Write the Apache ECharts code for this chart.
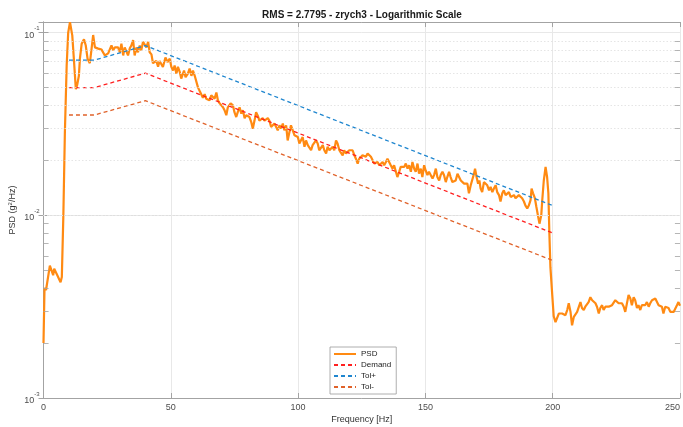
<!DOCTYPE html>
<html>
<head>
<meta charset="utf-8">
<script src="https://cdn.jsdelivr.net/npm/echarts@6/dist/echarts.min.js"></script>
<style>
  html, body { margin: 0; padding: 0; background: #ffffff; }
  #chart { width: 683px; height: 427px; }
</style>
</head>
<body>
<div id="chart"></div>
<script>
// Measured response spectrum (frequency in Hz, PSD in g^2/Hz)
const freq = [
  0, 0.4, 1.0, 2.5, 3.2, 3.8, 4.2, 5.1, 6.7, 7.2, 7.8, 8.4, 9.1, 9.7, 10.4, 11.3, 12.1, 12.7, 13.2, 13.9,
  14.3, 15.0, 15.9, 16.6, 17.3, 18.2, 18.9, 19.5, 20.2, 20.9, 21.5, 22.1, 22.8, 23.5, 24.1, 24.8, 25.4, 26.1, 26.7, 27.4,
  28.0, 28.7, 29.3, 30.0, 30.6, 31.3, 31.9, 32.6, 33.2, 33.9, 34.5, 35.2, 35.8, 36.5, 37.1, 37.8, 38.4, 39.1, 39.8, 40.4,
  41.1, 41.7, 42.4, 43.0, 43.7, 44.3, 45.0, 45.6, 46.0, 46.9, 47.9, 48.7, 49.6, 50.2, 50.9, 51.5, 52.2, 52.8, 53.5, 54.1,
  55.2, 55.8, 56.7, 57.4, 58.1, 58.7, 59.4, 60.0, 60.7, 61.3, 62.0, 62.6, 63.3, 63.9, 64.6, 65.2, 65.9, 66.5, 67.2, 67.9,
  68.5, 69.2, 69.8, 70.5, 71.1, 71.8, 72.4, 73.5, 74.4, 75.0, 75.7, 76.3, 77.0, 77.7, 78.3, 79.0, 79.6, 80.3, 80.9, 81.6,
  82.2, 82.9, 83.5, 84.2, 84.8, 85.5, 86.1, 86.8, 87.4, 88.1, 88.7, 89.4, 90.1, 90.7, 91.4, 92.0, 92.7, 93.3, 94.0, 94.6,
  95.3, 95.9, 96.6, 97.2, 97.9, 98.6, 99.2, 99.9, 100.5, 101.2, 101.8, 102.5, 103.1, 103.8, 104.4, 105.1, 105.7, 106.4, 107.0, 107.7,
  108.3, 109.0, 109.7, 110.3, 111.0, 111.6, 112.3, 112.9, 113.6, 114.2, 114.9, 115.5, 116.2, 116.8, 117.5, 118.1, 118.8, 119.5, 120.1, 120.8,
  121.4, 122.1, 122.7, 123.4, 124.0, 124.7, 125.3, 126.0, 126.6, 127.3, 127.9, 128.6, 129.2, 129.9, 130.6, 131.2, 131.9, 132.5, 133.2, 133.8,
  134.5, 135.1, 135.8, 136.4, 137.1, 137.7, 138.4, 139.0, 139.7, 140.3, 141.0, 141.7, 142.3, 143.0, 143.6, 144.3, 144.9, 145.6, 146.2, 146.9,
  147.5, 148.2, 148.8, 149.5, 150.1, 150.8, 151.4, 152.1, 152.8, 153.4, 154.1, 154.7, 155.4, 156.0, 156.7, 157.3, 158.0, 158.6, 159.3, 159.9,
  160.6, 161.2, 161.9, 162.6, 163.2, 163.9, 164.5, 165.2, 165.8, 166.5, 167.1, 167.8, 168.4, 169.1, 169.5, 170.1, 170.7, 171.2, 171.7, 172.3,
  173.0, 173.7, 174.3, 175.0, 175.6, 176.3, 176.9, 177.6, 178.2, 178.9, 179.5, 180.2, 180.8, 181.5, 182.1, 182.8, 183.5, 184.1, 184.8, 185.4,
  186.1, 186.7, 187.4, 188.0, 188.7, 189.3, 190.0, 190.6, 191.3, 191.7, 192.3, 193.0, 193.6, 194.3, 194.8, 195.5, 195.9, 196.5, 197.2, 197.8,
  198.3, 198.7, 199.1, 199.8, 200.4, 201.1, 201.7, 202.4, 203.0, 203.7, 204.3, 205.0, 205.7, 206.3, 207.0, 207.6, 208.3, 208.9, 209.6, 210.2,
  210.9, 211.5, 212.2, 212.8, 213.5, 214.1, 214.8, 215.5, 216.1, 216.8, 217.4, 218.1, 218.7, 219.4, 220.0, 220.7, 221.3, 222.0, 222.6, 223.3,
  224.0, 224.6, 225.3, 225.9, 226.6, 227.2, 227.9, 228.5, 229.2, 229.8, 230.5, 231.1, 231.8, 232.4, 233.1, 233.7, 234.4, 235.0, 235.7, 236.3,
  237.0, 237.7, 238.3, 239.0, 239.6, 240.3, 240.9, 241.6, 242.2, 242.9, 243.5, 244.2, 244.8, 245.5, 246.2, 246.8, 247.5, 248.1, 248.8, 249.4,
  250.0
];
const psd = [
  0.0020, 0.0040, 0.0039, 0.0053, 0.0053, 0.0047, 0.0051, 0.0048, 0.0043, 0.0046, 0.0100, 0.0286, 0.066, 0.100, 0.114, 0.0966, 0.066, 0.049, 0.0515, 0.058,
  0.072, 0.087, 0.092, 0.085, 0.072, 0.068, 0.082, 0.097, 0.083, 0.082, 0.0817, 0.082, 0.0807, 0.081, 0.075, 0.0755, 0.077, 0.078, 0.085, 0.080,
  0.083, 0.082, 0.083, 0.078, 0.087, 0.075, 0.083, 0.082, 0.075, 0.082, 0.085, 0.091, 0.075, 0.083, 0.078, 0.085, 0.080, 0.089, 0.091, 0.083,
  0.089, 0.078, 0.076, 0.068, 0.0665, 0.070, 0.065, 0.070, 0.071, 0.0648, 0.073, 0.069, 0.072, 0.065, 0.062, 0.066, 0.0596, 0.065, 0.061, 0.056,
  0.062, 0.057, 0.0596, 0.0635, 0.058, 0.062, 0.058, 0.057, 0.050, 0.048, 0.047, 0.044, 0.046, 0.0435, 0.044, 0.0426, 0.0454, 0.046, 0.0435, 0.047,
  0.0426, 0.041, 0.042, 0.039, 0.0376, 0.0353, 0.039, 0.041, 0.040, 0.0367, 0.0345, 0.0367, 0.039, 0.036, 0.0376, 0.034, 0.0353, 0.036, 0.0345, 0.0324,
  0.0298, 0.0331, 0.0367, 0.035, 0.033, 0.0324, 0.034, 0.033, 0.0324, 0.034, 0.033, 0.0304, 0.0298, 0.0318, 0.0311, 0.0292, 0.0311, 0.0298, 0.0318, 0.0292,
  0.0311, 0.0257, 0.0286, 0.0311, 0.0292, 0.0274, 0.028, 0.0268, 0.0247, 0.0242, 0.0268, 0.0237, 0.0257, 0.0242, 0.0247, 0.0227, 0.0242, 0.025, 0.0257, 0.0247,
  0.0227, 0.0232, 0.0242, 0.0227, 0.0218, 0.0237, 0.0227, 0.0232, 0.0237, 0.0227, 0.0257, 0.0247, 0.0227, 0.022, 0.0213, 0.0227, 0.0218, 0.0213, 0.0227, 0.0229,
  0.0227, 0.0213, 0.0204, 0.0192, 0.0204, 0.020, 0.0213, 0.0218, 0.0209, 0.0218, 0.0218, 0.0209, 0.0204, 0.0192, 0.0188, 0.0196, 0.0188, 0.0184, 0.0196, 0.0188,
  0.0196, 0.0204, 0.020, 0.0188, 0.018, 0.0188, 0.0184, 0.0162, 0.0173, 0.0184, 0.0188, 0.0184, 0.0192, 0.018, 0.0188, 0.0173, 0.0196, 0.018, 0.0173, 0.0192,
  0.0169, 0.018, 0.0162, 0.0188, 0.0176, 0.0166, 0.0173, 0.0169, 0.0159, 0.0166, 0.018, 0.0162, 0.0155, 0.0166, 0.0173, 0.0166, 0.0152, 0.0162, 0.0173, 0.0162,
  0.0152, 0.0149, 0.0155, 0.0169, 0.0173, 0.0155, 0.0152, 0.0149, 0.0152, 0.0149, 0.0132, 0.0146, 0.0149, 0.0169, 0.018, 0.0162, 0.0149, 0.0155, 0.014, 0.0134,
  0.0152, 0.0149, 0.0146, 0.0137, 0.0143, 0.0134, 0.014, 0.0146, 0.0134, 0.0129, 0.0119, 0.0132, 0.0137, 0.0129, 0.0126, 0.0134, 0.0126, 0.0124, 0.0129, 0.0124,
  0.0121, 0.0129, 0.0129, 0.0124, 0.0119, 0.0113, 0.0109, 0.0113, 0.0121, 0.014, 0.0132, 0.0124, 0.0111, 0.0098, 0.0090, 0.0100, 0.0121, 0.0155, 0.0184, 0.0162,
  0.0132, 0.0079, 0.0052, 0.0037, 0.0028, 0.0026, 0.00254, 0.0029, 0.00296, 0.0029, 0.00296, 0.00284, 0.00303, 0.0033, 0.00296, 0.0025, 0.00278, 0.00284, 0.00296, 0.00303,
  0.00335, 0.00311, 0.00303, 0.00316, 0.00311, 0.00335, 0.00356, 0.00343, 0.0035, 0.0033, 0.00316, 0.0029, 0.00311, 0.00322, 0.00303, 0.00316, 0.00311, 0.00316, 0.00316, 0.00322,
  0.0033, 0.00343, 0.00335, 0.0033, 0.00322, 0.0033, 0.00316, 0.00296, 0.00296, 0.00366, 0.0035, 0.00322, 0.00356, 0.00343, 0.00311, 0.00322, 0.00303, 0.00322, 0.0033, 0.00322,
  0.00335, 0.00316, 0.0033, 0.00343, 0.00335, 0.0035, 0.00343, 0.00322, 0.00316, 0.00316, 0.0029, 0.00316, 0.00322, 0.00311, 0.00296, 0.00303, 0.00296, 0.00303, 0.00322, 0.00335,
  0.0032
];

// Test profile breakpoints and its +/-3 dB tolerance bands
const profileFreq = [10, 20, 40, 200];
const demand = [0.05, 0.05, 0.06, 0.008];
const tolPlus = [0.0707, 0.0707, 0.0849, 0.0113];
const tolMinus = [0.0354, 0.0354, 0.0424, 0.00566];

// Axis ranges and logarithmic minor grid levels
const xRange = [0, 250];
const xStep = 50;
const yRange = [0.001, 0.1143];
const yMinor = [0.002, 0.003, 0.004, 0.005, 0.006, 0.007, 0.008, 0.009,
                0.02, 0.03, 0.04, 0.05, 0.06, 0.07, 0.08, 0.09];

const FONT = '"Liberation Sans", Arial, Helvetica, sans-serif';
const AXIS_COLOR = '#a3a3a3';
const LABEL_COLOR = '#4d4d4d';
const GRID_COLOR = '#e8e8e8';

const pairs = (xs, ys) => xs.map((x, i) => [x, ys[i]]);

function decadeLabel(v) {
  const e = Math.log10(v);
  if (Math.abs(e - Math.round(e)) > 1e-6) return '';
  return '{b|10}{s|' + Math.round(e) + '}';
}

// Minor grid (dotted) and short inward minor ticks on both vertical axes
const tickLen = 2.0;
const minorLines = [];
yMinor.forEach(v => {
  minorLines.push({ yAxis: v, lineStyle: { type: [1.5, 2], color: '#dedede', width: 0.8 } });
  minorLines.push([{ coord: [xRange[0], v] }, { coord: [xRange[0] + tickLen, v], lineStyle: { type: 'solid', color: AXIS_COLOR, width: 0.8 } }]);
  minorLines.push([{ coord: [xRange[1] - tickLen, v] }, { coord: [xRange[1], v], lineStyle: { type: 'solid', color: AXIS_COLOR, width: 0.8 } }]);
});

const chart = echarts.init(document.getElementById('chart'), null, { renderer: 'canvas' });

const baseX = {
  type: 'value', min: xRange[0], max: xRange[1], interval: xStep,
  axisLine: { show: true, lineStyle: { color: AXIS_COLOR, width: 1 } },
  axisTick: { show: true, inside: true, length: 5, lineStyle: { color: AXIS_COLOR } }
};
const baseY = {
  type: 'log', logBase: 10, min: yRange[0], max: yRange[1],
  axisLine: { show: true, lineStyle: { color: AXIS_COLOR, width: 1 } },
  axisTick: { show: true, inside: true, length: 5, lineStyle: { color: AXIS_COLOR } }
};

chart.setOption({
  animation: false,
  backgroundColor: '#ffffff',
  textStyle: { fontFamily: FONT },
  grid: { left: 43.5, right: 3, top: 22, bottom: 29, containLabel: false, outerBoundsMode: 'none' },
  graphic: [{
    type: 'text', x: 362, y: 15,
    style: {
      text: 'RMS = 2.7795 - zrych3 - Logarithmic Scale',
      font: 'bold 10px ' + FONT, fill: '#1a1a1a', align: 'center', verticalAlign: 'middle'
    }
  }],
  legend: {
    data: ['PSD', 'Demand', 'Tol+', 'Tol-'],
    orient: 'vertical', left: 330, top: 347,
    itemWidth: 22, itemHeight: 8, itemGap: 3, itemTextGap: 5,
    padding: [3, 5, 3, 3],
    borderColor: '#9a9a9a', borderWidth: 0.8, borderRadius: 0,
    backgroundColor: '#ffffff',
    itemStyle: { opacity: 0 },
    textStyle: { fontSize: 8, color: '#222222', fontFamily: FONT }
  },
  xAxis: [
    Object.assign({}, baseX, {
      position: 'bottom',
      name: 'Frequency [Hz]', nameLocation: 'middle', nameGap: 17, nameMoveOverlap: false,
      nameTextStyle: { fontSize: 9, color: '#333333' },
      axisLabel: { show: true, fontSize: 9, color: LABEL_COLOR, margin: 5, alignMaxLabel: 'right' },
      splitLine: { show: true, lineStyle: { color: GRID_COLOR, width: 1 } }
    }),
    Object.assign({}, baseX, {
      position: 'top',
      axisLabel: { show: false },
      splitLine: { show: false }
    })
  ],
  yAxis: [
    Object.assign({}, baseY, {
      position: 'left',
      name: 'PSD (g{s|2}/Hz)', nameLocation: 'middle', nameGap: 26, nameRotate: 90, nameMoveOverlap: false,
      nameTextStyle: {
        fontSize: 9, color: '#333333',
        rich: { s: { fontSize: 6, verticalAlign: 'top', lineHeight: 10, color: '#333333' } }
      },
      axisLabel: {
        show: true, margin: 4, color: LABEL_COLOR,
        formatter: decadeLabel,
        rich: {
          b: { fontSize: 9, color: LABEL_COLOR, lineHeight: 14, verticalAlign: 'bottom' },
          s: { fontSize: 6, color: LABEL_COLOR, lineHeight: 14, verticalAlign: 'top' }
        }
      },
      splitLine: { show: true, lineStyle: { color: GRID_COLOR, width: 1 } }
    }),
    Object.assign({}, baseY, {
      position: 'right',
      axisLabel: { show: false },
      splitLine: { show: false }
    })
  ],
  series: [
    {
      name: 'grid-minor', type: 'line', data: [], silent: true,
      markLine: { silent: true, symbol: 'none', animation: false, label: { show: false }, data: minorLines }
    },
    {
      name: 'PSD', type: 'line', data: pairs(freq, psd),
      showSymbol: false, symbol: 'none', smooth: false,
      lineStyle: { color: '#ff8a12', width: 2.2 }, itemStyle: { color: '#ff8a12' }, z: 3
    },
    {
      name: 'Demand', type: 'line', data: pairs(profileFreq, demand),
      showSymbol: false, symbol: 'none',
      lineStyle: { color: '#ff2020', width: 1.3, type: [4, 3] }, itemStyle: { color: '#ff2020' }, z: 4
    },
    {
      name: 'Tol+', type: 'line', data: pairs(profileFreq, tolPlus),
      showSymbol: false, symbol: 'none',
      lineStyle: { color: '#1f86cf', width: 1.3, type: [4, 3] }, itemStyle: { color: '#1f86cf' }, z: 4
    },
    {
      name: 'Tol-', type: 'line', data: pairs(profileFreq, tolMinus),
      showSymbol: false, symbol: 'none',
      lineStyle: { color: '#e0622a', width: 1.3, type: [4, 3] }, itemStyle: { color: '#e0622a' }, z: 4
    }
  ]
});
</script>
</body>
</html>
